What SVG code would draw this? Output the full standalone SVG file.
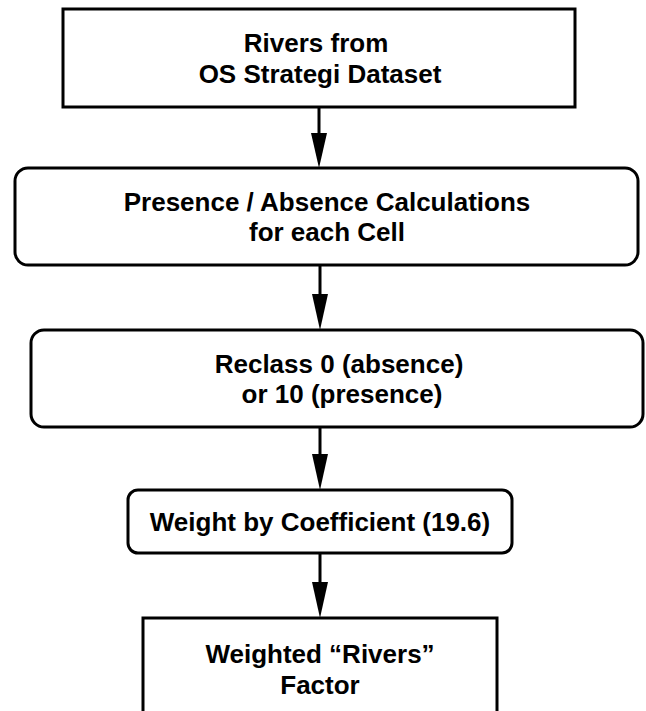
<svg xmlns="http://www.w3.org/2000/svg" width="646" height="711" viewBox="0 0 646 711">
  <style>
    .box { fill: #ffffff; stroke: #000000; stroke-width: 3; }
    .lbl { font-family: "Liberation Sans", Arial, sans-serif; font-weight: bold; font-size: 26px; fill: #000000; text-anchor: middle; }
    .edge { stroke: #000000; stroke-width: 3; fill: none; }
    .head { fill: #000000; stroke: none; }
  </style>
  <rect width="646" height="711" fill="#ffffff"/>

  <!-- vertical flow arrows between the steps -->
  <g id="connectors">
    <line class="edge" x1="319" y1="107" x2="319" y2="140"/>
    <polygon class="head" points="311,133 327,133 319,168"/>
    <line class="edge" x1="320" y1="265" x2="320" y2="300"/>
    <polygon class="head" points="312,294 328,294 320,330"/>
    <line class="edge" x1="320" y1="427" x2="320" y2="460"/>
    <polygon class="head" points="312,454 328,454 320,490"/>
    <line class="edge" x1="320" y1="553" x2="320" y2="588"/>
    <polygon class="head" points="312,582 328,582 320,618"/>
  </g>

  <g id="rivers-source">
    <rect class="box" x="63" y="9" width="512" height="98"/>
    <text class="lbl" x="316" y="52">Rivers from</text>
    <text class="lbl" x="320" y="83">OS Strategi Dataset</text>
  </g>

  <g id="presence-absence">
    <rect class="box" x="15" y="168" width="623" height="97" rx="13" ry="13"/>
    <text class="lbl" x="327" y="211">Presence / Absence Calculations</text>
    <text class="lbl" x="327" y="241">for each Cell</text>
  </g>

  <g id="reclass">
    <rect class="box" x="31" y="330" width="612" height="97" rx="13" ry="13"/>
    <text class="lbl" x="339" y="373">Reclass 0 (absence)</text>
    <text class="lbl" x="342" y="403">or 10 (presence)</text>
  </g>

  <g id="weight">
    <rect class="box" x="128" y="490" width="384" height="63" rx="10" ry="10"/>
    <text class="lbl" x="320" y="531">Weight by Coefficient (19.6)</text>
  </g>

  <g id="weighted-factor">
    <rect class="box" x="143" y="618" width="354" height="110"/>
    <text class="lbl" x="320" y="663">Weighted “Rivers”</text>
    <text class="lbl" x="320" y="694">Factor</text>
  </g>
</svg>
